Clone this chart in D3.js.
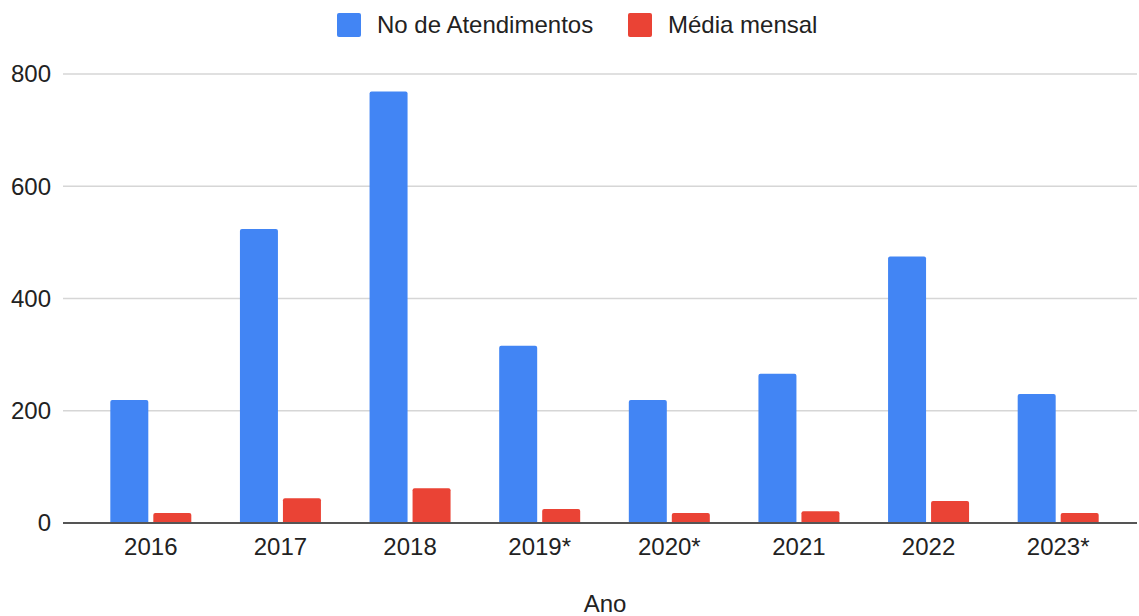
<!DOCTYPE html>
<html>
<head>
<meta charset="utf-8">
<script src="https://cdn.jsdelivr.net/npm/d3@7"></script>
<style>
  body { margin: 0; background: #fff; }
  text { font-family: "Liberation Sans", Arial, sans-serif; fill: #222; }
</style>
</head>
<body>
<svg id="chart" width="1139" height="616"></svg>
<script>
// data
var anos = ["2016", "2017", "2018", "2019*", "2020*", "2021", "2022", "2023*"];
var atendimentos = [219, 524, 769, 316, 219, 266, 475, 230];
var mediaMensal = [18, 44, 62, 25, 18, 21, 39, 18];
var yTicks = [0, 200, 400, 600, 800];
var seriesNames = ["No de Atendimentos", "Média mensal"];
var seriesColors = ["#4285F4", "#EA4335"];

var rows = anos.map(function (a, i) {
    return { ano: a, values: [atendimentos[i], mediaMensal[i]] };
});

var svg = d3.select("#chart");

var y = d3.scaleLinear()
    .domain([0, 800])
    .range([523, 74]);

var x0 = d3.scaleBand()
    .domain(anos)
    .range([86, 1123])
    .padding(0);

var groupW = 81;
var x1 = d3.scaleBand()
    .domain([0, 1])
    .range([0, groupW])
    .paddingInner(0.1163);

// grid
svg.append("g")
    .selectAll("line")
    .data(yTicks.filter(d => d > 0))
    .enter()
    .append("line")
    .attr("x1", 63)
    .attr("x2", 1137)
    .attr("y1", d => y(d))
    .attr("y2", d => y(d))
    .attr("stroke", "#d6d6d6")
    .attr("stroke-width", 1.5);

// y tick labels
svg.append("g")
    .selectAll("text")
    .data(yTicks)
    .enter()
    .append("text")
    .attr("x", 51)
    .attr("y", d => y(d))
    .attr("dy", "0.35em")
    .attr("text-anchor", "end")
    .attr("font-size", "24px")
    .text(d => d);

// bars
var groups = svg.append("g")
    .selectAll("g")
    .data(rows)
    .enter()
    .append("g")
    .attr("transform", d => "translate(" + (x0(d.ano) + (x0.bandwidth() - groupW) / 2) + ",0)");

groups.selectAll("rect")
    .data(d => d.values.map((v, k) => ({ k: k, v: v })))
    .enter()
    .append("rect")
    .attr("x", d => x1(d.k))
    .attr("width", x1.bandwidth())
    .attr("y", d => y(d.v))
    .attr("height", d => y(0) - y(d.v) + 1)
    .attr("rx", 2)
    .attr("fill", d => seriesColors[d.k]);

// baseline
svg.append("line")
    .attr("x1", 63)
    .attr("x2", 1137)
    .attr("y1", y(0))
    .attr("y2", y(0))
    .attr("stroke", "#555")
    .attr("stroke-width", 2);

// x labels
svg.append("g")
    .selectAll("text")
    .data(anos)
    .enter()
    .append("text")
    .attr("x", d => x0(d) + x0.bandwidth() / 2)
    .attr("y", 555)
    .attr("text-anchor", "middle")
    .attr("font-size", "24px")
    .text(d => d);

// axis title
svg.append("text")
    .attr("x", 605)
    .attr("y", 612)
    .attr("text-anchor", "middle")
    .attr("font-size", "24px")
    .text("Ano");

// legend
var legendX = [337, 628];
var legend = svg.append("g")
    .selectAll("g")
    .data(seriesNames)
    .enter()
    .append("g")
    .attr("transform", (d, i) => "translate(" + legendX[i] + ",13)");

legend.append("rect")
    .attr("width", 24)
    .attr("height", 24)
    .attr("rx", 2)
    .attr("fill", (d, i) => seriesColors[i]);

legend.append("text")
    .attr("x", 40)
    .attr("y", 20)
    .attr("font-size", "24px")
    .text(d => d);
</script>
</body>
</html>
